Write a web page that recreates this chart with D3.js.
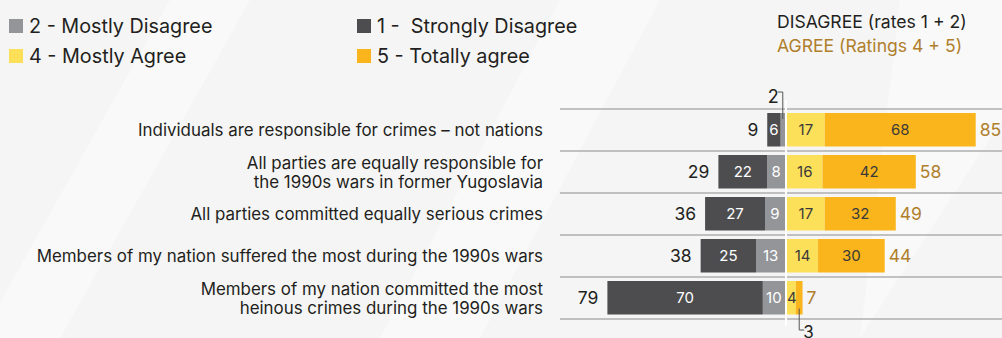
<!DOCTYPE html>
<html>
<head>
<meta charset="utf-8">
<script src="https://cdn.jsdelivr.net/npm/d3@7"></script>
<style>
  html, body { margin: 0; padding: 0; background: #f6f6f6; }
  svg { display: block; font-family: "Inter", "Lato", sans-serif; }
</style>
</head>
<body>
<svg id="chart" width="1002" height="338"></svg>
<script>
// Statements (each entry is a list of text lines)
const categories = [
  ["Individuals are responsible for crimes – not nations"],
  ["All parties are equally responsible for", "the 1990s wars in former Yugoslavia"],
  ["All parties committed equally serious crimes"],
  ["Members of my nation suffered the most during the 1990s wars"],
  ["Members of my nation committed the most", "heinous crimes during the 1990s wars"]
];
// Share of respondents per rating, %
const strongly = [6, 22, 27, 25, 70];   // 1 - Strongly Disagree
const mostlyDis = [2, 8, 9, 13, 10];    // 2 - Mostly Disagree
const mostlyAgr = [17, 16, 17, 14, 4];  // 4 - Mostly Agree
const totally = [68, 42, 32, 30, 3];    // 5 - Totally agree
const disagreeTotal = [9, 29, 36, 38, 79];
const agreeTotal = [85, 58, 49, 44, 7];

const legendItems = [
  { label: "2 - Mostly Disagree", key: "mostlyDis" },
  { label: "1 -\u00a0 Strongly Disagree", key: "strongly" },
  { label: "4 - Mostly Agree", key: "mostlyAgr" },
  { label: "5 - Totally agree", key: "totally" }
];

const colors = {
  strongly: "#4d4d4f",
  mostlyDis: "#949599",
  mostlyAgr: "#fde05a",
  totally: "#f9b51b"
};
const textDark = "#231f20";
const agreeColor = "#b07f2c";

const svg = d3.select("#chart");
const W = 1002, H = 338;

// soft background with faint diagonal light bands
svg.append("rect").attr("width", W).attr("height", H).attr("fill", "#f5f5f5");
const bands = [[170, 0, 250, 0, 60, 338, -20, 338], [560, 0, 660, 0, 480, 338, 380, 338], [900, 0, 1002, 0, 1002, 120, 860, 338]];
bands.forEach(p => {
  svg.append("polygon")
    .attr("points", [[p[0], p[1]], [p[2], p[3]], [p[4], p[5]], [p[6], p[7]]].map(d => d.join(",")).join(" "))
    .attr("fill", "#f9f9f9");
});

const center = 786;
const x = d3.scaleLinear().domain([0, 100]).range([0, 222]);
const y = d3.scaleBand().domain(d3.range(categories.length)).range([109, 319]).paddingInner(0).paddingOuter(0);
const barPad = 4;
const barH = y.bandwidth() - 2 * barPad - 0.5;

// row separators
const seps = d3.range(categories.length + 1).map(i => 109 + i * y.step());
svg.selectAll("line.sep").data(seps).join("line")
  .attr("class", "sep")
  .attr("x1", 560).attr("x2", W)
  .attr("y1", d => d).attr("y2", d => d)
  .attr("stroke", "#aeaeae").attr("stroke-width", 1.5);

const g = svg.append("g");

categories.forEach((cat, i) => {
  const top = y(i) + barPad;
  const cy = y(i) + y.bandwidth() / 2;
  // left: 2 next to center, then 1
  const segs = [];
  let lx = center - 1;
  segs.push({ key: "mostlyDis", v: mostlyDis[i], x0: lx - x(mostlyDis[i]), w: x(mostlyDis[i]) });
  lx -= x(mostlyDis[i]);
  segs.push({ key: "strongly", v: strongly[i], x0: lx - x(strongly[i]), w: x(strongly[i]) });
  lx -= x(strongly[i]);
  let rx = center + 1;
  segs.push({ key: "mostlyAgr", v: mostlyAgr[i], x0: rx, w: x(mostlyAgr[i]) });
  rx += x(mostlyAgr[i]);
  segs.push({ key: "totally", v: totally[i], x0: rx, w: x(totally[i]) });
  rx += x(totally[i]);

  g.selectAll(null).data(segs).join("rect")
    .attr("x", d => d.x0).attr("y", top)
    .attr("width", d => d.w).attr("height", barH)
    .attr("fill", d => colors[d.key]);

  g.selectAll(null).data(segs.filter(d => d.v >= 4)).join("text")
    .attr("x", d => d.x0 + d.w / 2 + (d.v === 4 ? 0.5 : 0))
    .attr("y", cy)
    .attr("dy", "0.36em")
    .attr("text-anchor", "middle")
    .attr("font-size", 15)
    .attr("fill", d => d.key === "mostlyDis" || d.key === "strongly" ? "#ffffff" : "#3a3a3a")
    .text(d => d.v);

  // totals
  g.append("text")
    .attr("x", lx - 9).attr("y", cy).attr("dy", "0.36em")
    .attr("text-anchor", "end").attr("font-size", 17.5).attr("fill", textDark)
    .text(disagreeTotal[i]);
  g.append("text")
    .attr("x", rx + 4).attr("y", cy).attr("dy", "0.36em")
    .attr("text-anchor", "start").attr("font-size", 17.5).attr("fill", agreeColor)
    .text(agreeTotal[i]);

  // statement label
  const lh = 19;
  const t = g.append("text")
    .attr("text-anchor", "end").attr("font-size", 16.9).attr("fill", textDark);
  cat.forEach((line, j) => {
    t.append("tspan")
      .attr("x", 543)
      .attr("y", cy + (j - (cat.length - 1) / 2) * lh)
      .attr("dy", "0.36em")
      .text(line);
  });
});

// center divider
svg.append("line")
  .attr("x1", center).attr("x2", center)
  .attr("y1", 100).attr("y2", 326)
  .attr("stroke", "#ffffff").attr("stroke-width", 2);

// call-outs for segments too narrow to hold their value
{
  const i = 0;
  const segX = center - 1 - x(mostlyDis[i]) / 2;
  const top = y(i) + barPad;
  svg.append("path")
    .attr("d", `M${segX - 5},${92} H${segX} V${top + 6}`)
    .attr("fill", "none").attr("stroke", "#555").attr("stroke-width", 1);
  svg.append("text")
    .attr("x", segX - 4).attr("y", 103)
    .attr("text-anchor", "end").attr("font-size", 18).attr("fill", textDark)
    .text(mostlyDis[i]);
}
{
  const i = 4;
  const segX = center + 1 + x(mostlyAgr[i]) + x(totally[i]) / 2;
  const bottom = y(i) + barPad + barH;
  svg.append("path")
    .attr("d", `M${segX},${bottom - 6} V${330} H${segX + 5}`)
    .attr("fill", "none").attr("stroke", "#555").attr("stroke-width", 1);
  svg.append("text")
    .attr("x", segX + 4).attr("y", 337.5)
    .attr("text-anchor", "start").attr("font-size", 17).attr("fill", textDark)
    .text(totally[i]);
}

// legend
const legend = svg.append("g");
legendItems.forEach((d, k) => {
  const col = k % 2, row = Math.floor(k / 2);
  const lx = col === 0 ? 9 : 357;
  const ly = 26 + row * 30;
  legend.append("rect")
    .attr("x", lx).attr("y", ly - 7).attr("width", 14).attr("height", 14)
    .attr("fill", colors[d.key]);
  legend.append("text")
    .attr("x", lx + 20).attr("y", ly).attr("dy", "0.36em")
    .attr("font-size", 19.8).attr("fill", textDark)
    .text(d.label);
});

// group headers
svg.append("text")
  .attr("x", 777).attr("y", 22).attr("dy", "0.36em")
  .attr("font-size", 17.6).attr("fill", textDark)
  .text("DISAGREE (rates 1 + 2)");
svg.append("text")
  .attr("x", 777).attr("y", 46).attr("dy", "0.36em")
  .attr("font-size", 17.6).attr("fill", agreeColor)
  .text("AGREE (Ratings 4 + 5)");
</script>
</body>
</html>
